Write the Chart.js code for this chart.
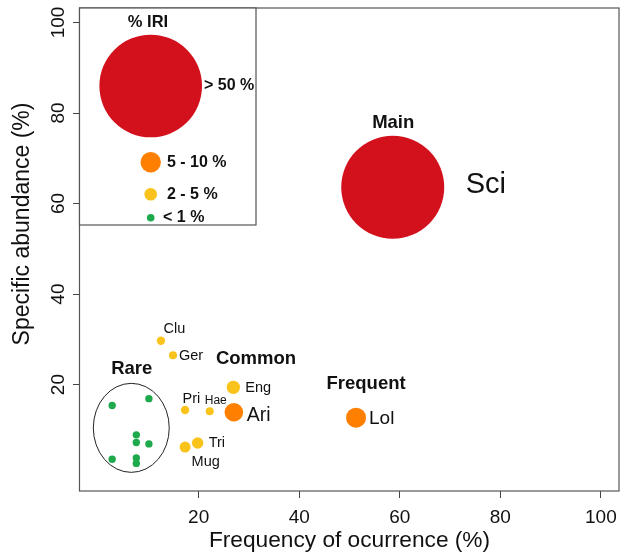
<!DOCTYPE html>
<html>
<head>
<meta charset="utf-8">
<script src="https://cdn.jsdelivr.net/npm/chart.js@4.4.1/dist/chart.umd.min.js"></script>
<style>
  body { margin: 0; background: #fff; }
  canvas { display: block; }
</style>
</head>
<body>
<canvas id="iriChart" width="629" height="559"></canvas>
<script>
// Species with a name label
const species = ['Sci', 'Lol', 'Ari', 'Eng', 'Clu', 'Ger', 'Pri', 'Hae', 'Tri', 'Mug'];
const speciesFreq = [58.6, 51.3, 27.0, 26.9, 12.5, 14.9, 17.3, 22.2, 19.8, 17.3];
const speciesAbund = [63.6, 12.7, 13.9, 19.4, 29.7, 26.5, 14.4, 14.1, 7.1, 6.2];
// IRI class of each species: 0 = > 50 %, 1 = 5 - 10 %, 2 = 2 - 5 %, 3 = < 1 %
const speciesClass = [0, 1, 1, 2, 2, 2, 2, 2, 2, 2];
const speciesSize = [51.5, 10, 9.3, 6.7, 4.2, 4, 4.2, 4, 5.7, 5.5];

// Rare species (no labels)
const rareFreq = [2.8, 10.1, 7.6, 7.6, 10.1, 2.8, 7.6, 7.6];
const rareAbund = [15.4, 16.9, 8.9, 7.2, 6.9, 3.5, 3.8, 2.6];

// Group labels
const groups = ['Main', 'Frequent', 'Common', 'Rare'];
const groupFreq = [58.7, 53.3, 31.4, 6.7];
const groupAbund = [77.9, 20.1, 25.7, 23.5];

const xTicks = [20, 40, 60, 80, 100];
const yTicks = [20, 40, 60, 80, 100];
const iriLabels = ['> 50 %', '5 - 10 %', '2 - 5 %', '< 1 %'];
const yTitle = 'Specific abundance (%)';

const classColors = ['#D3111C', '#FF7F00', '#FAC31B', '#1EAA4C'];
const FONT = '"Liberation Sans", Arial, sans-serif';

// label offsets in pixels from the point centre (left edge, middle)
const labelStyle = {
    Sci: { dx: 73, dy: -2, size: 29 },
    Lol: { dx: 13, dy: 1, size: 19 },
    Ari: { dx: 13, dy: 3, size: 19.5 },
    Eng: { dx: 12, dy: 1, size: 14.5 },
    Clu: { dx: 2.5, dy: -11.5, size: 14.5 },
    Ger: { dx: 6, dy: 1, size: 14.5 },
    Pri: { dx: -2.5, dy: -11, size: 14.5 },
    Hae: { dx: -5, dy: -10.5, size: 12 },
    Tri: { dx: 11, dy: 0, size: 14.5 },
    Mug: { dx: 6.5, dy: 15, size: 14.5 }
};

const textColor = '#111';

// no extra padding from tick labels, so the plot box fills the canvas like in R
function noPad(scale) {
    scale.paddingTop = 0;
    scale.paddingBottom = 0;
    scale.paddingLeft = 0;
    scale.paddingRight = 0;
}

const extras = {
    id: 'extras',
    afterDatasetsDraw(chart) {
        const ctx = chart.ctx;
        const xs = chart.scales.x;
        const ys = chart.scales.y;
        const area = chart.chartArea;
        ctx.save();

        // frame
        ctx.strokeStyle = '#555';
        ctx.lineWidth = 1.2;
        ctx.strokeRect(area.left - 0.5, area.top, area.right - area.left + 0.5, area.bottom - area.top);

        // y axis title (sits a bit above the middle in the original)
        ctx.save();
        ctx.translate(23, area.top + 216);
        ctx.rotate(-Math.PI / 2);
        ctx.font = '23px ' + FONT;
        ctx.fillStyle = textColor;
        ctx.textAlign = 'center';
        ctx.textBaseline = 'middle';
        ctx.fillText(yTitle, 0, 0);
        ctx.restore();

        // ellipse round the rare species
        const cx = xs.getPixelForValue(6.6), cy = ys.getPixelForValue(10.45);
        const rx = xs.getPixelForValue(6.6 + 7.55) - cx;
        const ry = cy - ys.getPixelForValue(10.45 + 9.83);
        ctx.strokeStyle = '#222';
        ctx.lineWidth = 1;
        ctx.beginPath();
        ctx.ellipse(cx, cy, rx, ry, 0, 0, Math.PI * 2);
        ctx.stroke();

        // species labels
        ctx.fillStyle = textColor;
        ctx.textBaseline = 'middle';
        ctx.textAlign = 'left';
        const meta = chart.getDatasetMeta(0);
        species.forEach((name, i) => {
            const el = meta.data[i];
            const st = labelStyle[name];
            ctx.font = st.size + 'px ' + FONT;
            ctx.fillText(name, el.x + st.dx, el.y + st.dy);
        });

        // group labels
        ctx.textAlign = 'center';
        ctx.font = 'bold 18.5px ' + FONT;
        groups.forEach((g, i) => {
            ctx.fillText(g, xs.getPixelForValue(groupFreq[i]), ys.getPixelForValue(groupAbund[i]));
        });

        // IRI legend box
        const L = area.left, T = area.top;
        ctx.fillStyle = '#fff';
        ctx.fillRect(L, T, 176, 217);
        ctx.strokeStyle = '#555';
        ctx.lineWidth = 1.2;
        ctx.strokeRect(L - 0.5, T, 176.5, 217);
        ctx.fillStyle = textColor;
        ctx.font = 'bold 16.5px ' + FONT;
        ctx.textAlign = 'center';
        ctx.fillText('% IRI', L + 68, T + 14);
        const legendSize = [51.3, 10.2, 6.3, 3.8];
        const legendY = [78, 154.3, 186.3, 209.7];
        const legendTextX = [124, 87, 87, 83];
        ctx.textAlign = 'left';
        ctx.font = 'bold 16px ' + FONT;
        iriLabels.forEach((lab, i) => {
            ctx.fillStyle = classColors[i];
            ctx.beginPath();
            ctx.arc(L + 70.7, T + legendY[i], legendSize[i], 0, Math.PI * 2);
            ctx.fill();
            ctx.fillStyle = textColor;
            ctx.fillText(lab, L + legendTextX[i], T + legendY[i]);
        });
        ctx.restore();
    }
};

const ctx = document.getElementById('iriChart').getContext('2d');
const iriChart = new Chart(ctx, {
    type: 'bubble',
    data: {
        datasets: [
            {
                label: 'Species',
                data: species.map((s, i) => ({ x: speciesFreq[i], y: speciesAbund[i], r: speciesSize[i] })),
                backgroundColor: speciesClass.map(c => classColors[c]),
                borderWidth: 0
            },
            {
                label: 'Rare',
                data: rareFreq.map((f, i) => ({ x: f, y: rareAbund[i], r: 3.7 })),
                backgroundColor: classColors[3],
                borderWidth: 0
            }
        ]
    },
    options: {
        responsive: false,
        animation: false,
        events: [],
        layout: { autoPadding: false, padding: { top: 8, right: 10, left: 0, bottom: 0 } },
        scales: {
            x: {
                type: 'linear',
                min: -3.6,
                max: 103.6,
                afterBuildTicks: scale => { scale.ticks = xTicks.map(v => ({ value: v })); },
                afterFit: scale => { scale.height = 68; noPad(scale); },
                grid: { drawOnChartArea: false, color: '#444', tickLength: 7 },
                border: { display: false },
                ticks: { color: textColor, padding: 8, font: { family: FONT, size: 19 }, maxRotation: 0 },
                title: {
                    display: true,
                    text: 'Frequency of ocurrence (%)',
                    color: textColor,
                    font: { family: FONT, size: 22.7 },
                    padding: { top: 0, bottom: 5 }
                }
            },
            y: {
                type: 'linear',
                min: -3.5,
                max: 103.2,
                afterBuildTicks: scale => { scale.ticks = yTicks.map(v => ({ value: v })); },
                afterFit: scale => { scale.width = 80; noPad(scale); },
                grid: { drawOnChartArea: false, color: '#444', tickLength: 7 },
                border: { display: false },
                ticks: {
                    color: textColor,
                    padding: -2,
                    minRotation: 90,
                    maxRotation: 90,
                    crossAlign: 'center',
                    font: { family: FONT, size: 19 }
                },
                title: { display: false }
            }
        },
        plugins: {
            legend: { display: false },
            tooltip: { enabled: false }
        }
    },
    plugins: [extras]
});
</script>
</body>
</html>
